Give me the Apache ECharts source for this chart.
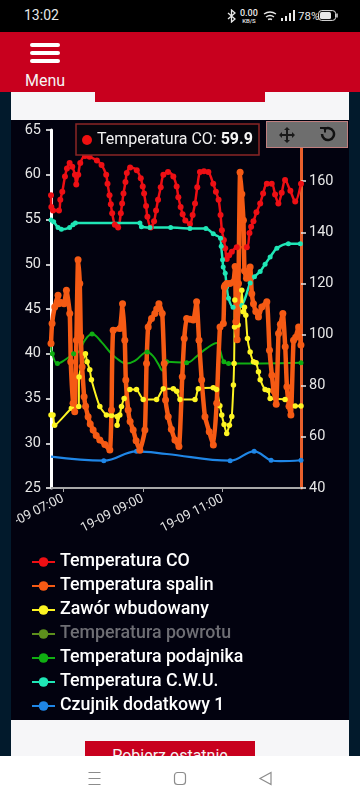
<!DOCTYPE html>
<html><head><meta charset="utf-8">
<script src="https://cdn.jsdelivr.net/npm/echarts@6/dist/echarts.min.js"></script>
<style>
html,body{margin:0;padding:0;width:360px;height:800px;overflow:hidden;background:#021a2c;font-family:Roboto,sans-serif}
.a{position:absolute}
</style></head><body>
<div class="a" style="left:0;top:0;width:360px;height:32px;background:#000;color:#e8e8e8">
 <span class="a" style="left:24px;top:7px;font-size:14px">13:02</span>
 <svg class="a" style="left:226px;top:9px" width="12" height="14" viewBox="0 0 12 14" fill="none" stroke="#e8e8e8" stroke-width="1.3"><path d="M2 4l7 6-3.5 3V1L9 4l-7 6"/></svg>
 <span class="a" style="left:240px;top:9px;font-size:9px;line-height:9px;font-weight:500;text-align:center">0.00<br><span style="font-size:6px;line-height:6px;display:block">KB/S</span></span>
 <svg class="a" style="left:263px;top:10px" width="14" height="12" viewBox="0 0 14 12" fill="none" stroke="#e8e8e8" stroke-width="1.4"><path d="M1 4q6-4 12 0M3 7q4-3 8 0M5 9.5q2-1 4 0"/></svg>
 <svg class="a" style="left:281px;top:10px" width="14" height="12" viewBox="0 0 14 12" fill="#e8e8e8"><rect x="0" y="8" width="2" height="3"/><rect x="4" y="6" width="2" height="5"/><rect x="8" y="3" width="2" height="8"/><rect x="12" y="0" width="2" height="11"/></svg>
 <span class="a" style="left:298px;top:9px;font-size:11.5px">78%</span>
 <svg class="a" style="left:318px;top:10px" width="20" height="12" viewBox="0 0 20 12"><rect x=".6" y=".6" width="17" height="9.8" rx="3" fill="none" stroke="#e8e8e8"/><rect x="2" y="2" width="11" height="7" rx="1.5" fill="#e8e8e8"/><rect x="18.3" y="3.5" width="1.4" height="4" fill="#e8e8e8"/></svg>
</div>
<div class="a" style="left:0;top:32px;width:360px;height:60px;background:#c8001e"></div>
<div class="a" style="left:30px;top:43px;width:30px;height:3.5px;background:#fff;border-radius:2px"></div>
<div class="a" style="left:30px;top:51px;width:30px;height:3.5px;background:#fff;border-radius:2px"></div>
<div class="a" style="left:30px;top:59px;width:30px;height:3.5px;background:#fff;border-radius:2px"></div>
<span class="a" style="left:25px;top:71px;font-size:16px;color:#f4f4f4">Menu</span>
<div class="a" style="left:11px;top:92px;width:338px;height:28px;background:#f6f6f8"></div>
<div class="a" style="left:95px;top:92px;width:170px;height:10px;background:#c8001e"></div>
<div class="a" style="left:11px;top:120px;width:338px;height:600px;background:#02020f"></div>
<div id="c" class="a" style="left:16px;top:120px;width:333px;height:600px"></div>
<div class="a" style="left:266px;top:121px;width:39px;height:25px;background:#6e6e6e;border:1px solid #c07f7f"></div>
<div class="a" style="left:306px;top:121px;width:41px;height:25px;background:#6e6e6e;border:1px solid #c07f7f;border-left:none"></div>
<svg class="a" style="left:279px;top:127px" width="16" height="16" viewBox="0 0 16 16" fill="#1a1a1a"><path d="M8 0l3 3H9v4h4V5l3 3-3 3V9H9v4h2l-3 3-3-3h2V9H3v2L0 8l3-3v2h4V3H5z"/></svg>
<svg class="a" style="left:319px;top:126px" width="17" height="17" viewBox="0 0 17 17" fill="none" stroke="#111" stroke-width="2.500"><path d="M5 3.600A6 6 0 1 1 3 8"/><path d="M1 2h5v4.500" stroke-width="2"/></svg>
<div class="a" style="left:11px;top:720px;width:338px;height:36px;background:#f6f6f8"></div>
<div class="a" style="left:85px;top:741px;width:170px;height:15px;background:#c8001e;overflow:hidden;color:#f4f4f4;font-size:16px;text-align:center;line-height:30px">Pobierz ostatnie</div>
<div class="a" style="left:0;top:756px;width:360px;height:44px;background:#fff"></div>
<svg class="a" style="left:86px;top:770px" width="190" height="18" viewBox="0 0 190 18" fill="none" stroke="#8c8c8c" stroke-width="1.2"><path d="M2.500 2.500h12M2.500 8.500h12M2.500 14.500h12"/><rect x="88.500" y="2.500" width="11" height="12" rx="3"/><path d="M185 2.500v12L174 8.500z"/></svg>
<script>
var seriesNames=['Temperatura CO','Temperatura spalin','Zawór wbudowany','Temperatura powrotu','Temperatura podajnika','Temperatura C.W.U.','Czujnik dodatkowy 1'];
var tooltipName='Temperatura CO', tooltipValue='59.9';
var rightTicksMin=40, rightTicksMax=180, leftTicksMin=25, leftTicksMax=65;
var xTickMinutes=[420,540,660], xMin=402, xMax=778, datePrefix='19-09';

var coMin=[402,402.5,405,414,416,419,423,426,430,434,438,440,443,446,453,460,471,478,485,487,490,492,494,498,503,507,509,511,514,516,521,531,537,540,542,545,547,552,557,560,563,567,571,578,586,591,593.5,597,600,604,611,615,618.6,622,626,632,638.7,646,650,654,657,659,662,664,666.3,670,674,681.4,696.5,700.5,703,706.5,711,716.6,721,726.6,734,739,744,749,754,762,769.3,778];
var coVal=[57.7,56.4,56,56,57.2,58.1,59.8,60.7,61.3,60.9,60,58.9,60,61.3,62.1,62,61.6,61.1,60,59,57.7,56.7,55.7,54.4,54.1,55.7,56.8,57.9,59.2,60.2,60.8,60.5,59.6,58.7,57.9,56.5,55.3,54.1,54.8,56,57.2,58.6,60,60.3,59.8,58.7,57.5,56.4,55.6,54.9,54.5,55.5,56.8,58.6,60.3,60.4,60.3,59,58.1,57.2,55.5,53.8,52.7,51.8,50.6,51,51.4,51.9,51.9,53.5,54.2,54.8,55.8,56.8,57.9,59,59,57.8,56.8,58,59.4,58.2,57,59];

var spalinMin=[402,403.6,407.6,412.6,413.6,417,421.6,425.2,430.2,431.7,435.2,437.7,440.2,442.7,445.3,446.8,448.8,451.8,454,457.8,461,465.4,470,475.4,483,490.5,493,495.5,505.6,509.6,513,514.5,518,521,525.6,530,535.6,543.2,545.7,548.2,553.2,558.2,561,564.3,569.3,572.3,574.3,578.3,583,588.4,594.4,599.4,602.4,606,611,616,621,624.6,628.6,633.6,640,646.2,651.2,656.2,661.2,662.7,663.8,666.3,671,676.3,678.9,680,682,684,686.4,689,691.4,693,696,701.5,704,706.5,710,714,719,726.6,730.6,734.2,737,740.7,744.2,747,750.7,754.3,756.8,760,762.8,766.8,770,774.4,777.9];
var spalinVal=[96.5,104.3,110.8,115.4,112.1,112.5,112.1,117.3,108.2,89.4,73.1,69.8,97.8,129.3,120,99.1,87.4,75.7,72,67.9,65,62.7,60.5,58.8,57,54.9,70.5,101.7,102.4,112.1,97.8,82.2,70.5,66,62.7,58.5,54.8,62.7,88.7,103,106.3,108.2,110,112.1,108.2,88.7,74.4,67.9,63,58.8,56.2,83.5,98.5,106.3,106,105.7,112.8,97.8,82.2,67.9,62,56.8,73.1,103,104.3,118.6,119.3,120,120,120.6,126.6,105,98,120,163.5,155,144.7,125,122,126.4,116,112.1,109,106.9,110.8,112.8,93.9,84.1,78,72.8,100.4,104,108.2,95.2,79.6,72,68.5,97.8,99,103,95.9];

var zaworMin=[402,405,407.5,432.7,443.7,444.2,453.8,456.3,460.3,462.8,475.4,485.4,493,501.5,501.5,505.5,508,512,520.6,530.6,540.7,560.8,570.9,586,591,596,618.6,623.6,646,651,656,658.8,662.3,666.3,670.3,673.9,676.4,677.4,678,678.5,683.4,689,691,693,695,697.5,701.5,706.5,710.5,714,716.6,724,729,731.6,754,769.3,778];
var zaworVal=[33.15,33.15,32,33.9,34.1,37.4,40,39.1,38.2,37.1,34.1,33.15,33.1,33,32,33.15,34.1,35,36,36,34.9,34.9,36.1,36.1,35.8,34.9,34.9,36.1,36.2,36,34.2,33.15,32.1,31.1,32,33,36.5,38.9,43,46,43.2,47.1,44.7,45.2,44.3,41.7,40.2,39.1,39,38,37.1,36,35.9,35,34.9,34.15,34.15];

var powrotuMin=[];
var powrotuVal=[];

var podajnikMin=[402,404,411.6,422.6,436,443.7,452.8,463.8,478,490.5,500.5,515.6,528,546.7,555.8,563,570,576,606,621,636,651.3,656.3,662,669,778];
var podajnikVal=[41,40,38.9,39.3,40,40.2,41.5,42.2,41.3,40.2,39.5,38.9,39.2,40.2,39.7,38.9,38.1,39.1,39,39.7,40.6,41.2,40.4,39.1,38.9,39];
var podajnikMarked=[404,411.6,436,463.8,546.7,576,606,662,669,778];

var cwuMin=[402,406,412.6,417.6,430,435,438.7,535.7,538,550.8,582,611,635,646,657,658,660,661,664,666.3,669,675.9,689,701.5,708,716.6,724,731.6,741.7,759,777];
var cwuVal=[54.95,54.76,54.1,53.9,54.1,54.4,54.6,54.6,54.2,54.1,54.1,54,54,53.4,52.9,52,50.5,49.7,49,47.5,46.2,45.2,45.4,47.9,48.6,49.2,50,50.8,51.8,52.3,52.3];

var czujnikMin=[402,481.4,530.6,576,671.4,707.5,733,747,778];
var czujnikVal=[28.5,28.05,29.1,28.8,28.05,29.1,28.1,28,28.1];
var czujnikMarked=[481.4,530.6,671.4,707.5,733,778];

function pairs(a,b){return a.map(function(m,i){return [m,b[i]];});}
function pad(n){return (n<10?'0':'')+n;}
function line(name,mins,vals,color,yIdx,width,size,smooth,marked){
  return {name:name,type:'line',yAxisIndex:yIdx,data:pairs(mins,vals),smooth:smooth,symbol:'circle',
    symbolSize:marked?function(v){return marked.indexOf(v[0])>=0?size:0;}:size,showSymbol:true,showAllSymbol:true,
    lineStyle:{color:color,width:width},itemStyle:{color:color},emphasis:{disabled:true}};
}
var chart=echarts.init(document.getElementById('c'),null,{renderer:'canvas'});
var C={co:'#ee0f14',sp:'#f55a14',za:'#fdf422',po:'#5c8f1c',pd:'#10ae12',cw:'#1fe6b6',cz:'#1f86e6'};
var legendColors=[C.co,C.sp,C.za,C.po,C.pd,C.cw,C.cz];
chart.setOption({
  animation:false,
  backgroundColor:'#02020f',
  textStyle:{fontFamily:'Roboto'},
  grid:{left:35,right:48,top:10,bottom:232,containLabel:false,outerBoundsMode:'none'},
  xAxis:{type:'value',min:xMin,max:xMax,interval:2,splitLine:{show:false},
    axisLine:{show:true,lineStyle:{color:'#a8a8a8',width:2}},
    axisTick:{show:true,length:4,customValues:xTickMinutes,lineStyle:{color:'#a8a8a8',width:1}},
    axisLabel:{show:true,customValues:xTickMinutes,rotate:27,margin:10,align:'right',verticalAlign:'middle',fontSize:13,color:'#e2e2e2',hideOverlap:false,
      formatter:function(v){return datePrefix+' '+pad(Math.floor(v/60))+':'+pad(Math.round(v%60));}}},
  yAxis:[
    {type:'value',position:'left',min:leftTicksMin,max:leftTicksMax,interval:5,splitLine:{show:false},
      axisLine:{show:true,onZero:false,lineStyle:{color:'#fff',width:3}},axisTick:{show:true,length:5,lineStyle:{color:'#fff',width:1.5}},
      axisLabel:{fontSize:14.500,color:'#e6e6e6',margin:10}},
    {type:'value',position:'right',min:rightTicksMin,max:rightTicksMax,interval:20,splitLine:{show:false},
      axisLine:{show:true,onZero:false,lineStyle:{color:'#e8602c',width:3}},axisTick:{show:true,length:5,lineStyle:{color:'#e8e8e8',width:1.5}},
      axisLabel:{fontSize:14.500,color:'#e6e6e6',margin:8,showMaxLabel:false}}
  ],
  legend:{orient:'vertical',left:15,top:432,height:170,padding:0,itemWidth:23,itemHeight:12,itemGap:4,
    textStyle:{color:'#fff',fontSize:17.8,fontWeight:500,fontFamily:'Roboto',lineHeight:20},selectedMode:false,
    lineStyle:{width:2},
    data:seriesNames.map(function(n,i){
      var inactive=n==='Temperatura powrotu';
      return {name:n,itemStyle:{color:legendColors[i]},lineStyle:{color:legendColors[i],width:2},textStyle:{color:inactive?'#6e6e74':'#fff'}};
    })},
  graphic:[
    {type:'rect',silent:true,z:100,shape:{x:60,y:4,width:183,height:31},style:{fill:'#05050c',stroke:'#8a2626',lineWidth:1.5}},
    {type:'circle',silent:true,z:101,shape:{cx:71,cy:20,r:5},style:{fill:'#f01010'}},
    {type:'text',silent:true,z:101,x:81,y:20,style:{text:'{a|'+tooltipName+': }{b|'+tooltipValue+'}',verticalAlign:'middle',
      rich:{a:{fill:'#f0f0f0',fontSize:16,fontFamily:'Roboto'},b:{fill:'#f4f4f4',fontSize:16,fontWeight:'bold',fontFamily:'Roboto'}}}}
  ],
  series:[
    line(seriesNames[3],powrotuMin,powrotuVal,C.po,0,2,5,0.3),
    line(seriesNames[4],podajnikMin,podajnikVal,C.pd,0,2,5,0.4,podajnikMarked),
    line(seriesNames[6],czujnikMin,czujnikVal,C.cz,0,2.2,5,0.4,czujnikMarked),
    line(seriesNames[0],coMin,coVal,C.co,0,2.5,6,0.3),
    line(seriesNames[5],cwuMin,cwuVal,C.cw,0,2.5,5,0.3),
    line(seriesNames[2],zaworMin,zaworVal,C.za,0,2,5.500,0.15),
    line(seriesNames[1],spalinMin,spalinVal,C.sp,1,4.500,7,0.15)
  ]
});
</script>
</body></html>
